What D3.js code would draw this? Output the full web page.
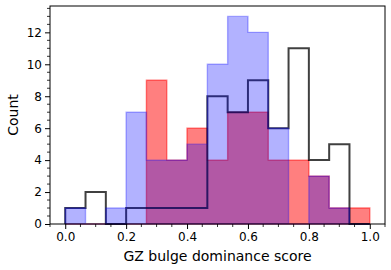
<!DOCTYPE html>
<html>
<head>
<meta charset="utf-8">
<script src="https://cdn.jsdelivr.net/npm/d3@7"></script>
<style>
  body { margin: 0; background: #fff; }
  text { font-family: "DejaVu Sans", sans-serif; fill: #000; }
</style>
</head>
<body>
<div class="chart"></div>
<script>
// histogram counts, 15 equal bins between 0 and 1
var binRange = [0, 1];
var redCounts   = [0, 0, 0, 0, 9, 4, 6, 4, 7, 7, 4, 4, 3, 1, 1];
var blueCounts  = [1, 0, 1, 7, 4, 4, 5, 10, 13, 12, 6, 0, 3, 1, 0];
var blackCounts = [1, 2, 0, 1, 1, 1, 1, 8, 7, 9, 6, 11, 4, 5, 0];
var xTicks = [0, 0.2, 0.4, 0.6, 0.8, 1.0];
var yTicks = [0, 2, 4, 6, 8, 10, 12];

var margin = {top: 6, right: 6, bottom: 46, left: 50};
var width = 391 - margin.left - margin.right;
var height = 270 - margin.top - margin.bottom;

var svg = d3.select('div.chart').append('svg')
    .attr('width', 391)
    .attr('height', 270);
var g = svg.append('g')
    .attr('transform', 'translate(' + margin.left + ',' + margin.top + ')');

var nBins = redCounts.length;
var edges = d3.range(nBins + 1).map(function (i) {
  return binRange[0] + (binRange[1] - binRange[0]) * i / nBins;
});

var xScale = d3.scaleLinear().domain([-0.05, 1.05]).range([0, width]);
var yMax = d3.max(redCounts.concat(blueCounts, blackCounts)) * 1.05;
var yScale = d3.scaleLinear().domain([0, yMax]).range([height, 0]);

function outline(counts) {
  var pts = [[edges[0], 0]];
  counts.forEach(function (v, i) {
    pts.push([edges[i], v]);
    pts.push([edges[i + 1], v]);
  });
  pts.push([edges[nBins], 0]);
  return pts;
}

var line = d3.line()
    .x(function (d) { return xScale(d[0]); })
    .y(function (d) { return yScale(d[1]); });

// red (stepfilled, alpha .5)
g.append('path')
  .attr('d', line(outline(redCounts)) + 'Z')
  .attr('fill', 'red').attr('fill-opacity', 0.5)
  .attr('stroke', 'red').attr('stroke-opacity', 0.5)
  .attr('stroke-width', 1.4);

// black step outline
g.append('path')
  .attr('d', line(outline(blackCounts)))
  .attr('fill', 'none')
  .attr('stroke', 'black').attr('stroke-opacity', 0.75)
  .attr('stroke-width', 2);

// blue (stepfilled, alpha .3)
g.append('path')
  .attr('d', line(outline(blueCounts)) + 'Z')
  .attr('fill', 'blue').attr('fill-opacity', 0.3)
  .attr('stroke', 'blue').attr('stroke-opacity', 0.3)
  .attr('stroke-width', 1.4);

// axes
var xAxis = d3.axisBottom(xScale).tickValues(xTicks).tickSize(5).tickPadding(3)
    .tickFormat(d3.format('.1f'));
var yAxis = d3.axisLeft(yScale).tickValues(yTicks).tickSize(5).tickPadding(3);

var xg = g.append('g').attr('transform', 'translate(0,' + height + ')').call(xAxis);
var yg = g.append('g').call(yAxis);

// minor ticks
var xMinor = d3.range(-0.05, 1.051, 0.05).filter(function (v) {
  return Math.abs(Math.round(v * 5) - v * 5) > 1e-6;
});
var yMinor = d3.range(0, yMax, 0.5).filter(function (v) { return v % 2 !== 0; });
xg.selectAll('line.minor').data(xMinor).enter().append('line')
  .attr('class', 'minor')
  .attr('x1', function (d) { return xScale(d); }).attr('x2', function (d) { return xScale(d); })
  .attr('y1', 0).attr('y2', 3).attr('stroke', '#000').attr('stroke-width', 0.8);
yg.selectAll('line.minor').data(yMinor).enter().append('line')
  .attr('class', 'minor')
  .attr('y1', function (d) { return yScale(d); }).attr('y2', function (d) { return yScale(d); })
  .attr('x1', 0).attr('x2', -3).attr('stroke', '#000').attr('stroke-width', 0.8);

svg.selectAll('.domain').remove();
svg.selectAll('.tick line').attr('stroke', '#000').attr('stroke-width', 1);
svg.selectAll('.tick text').style('font-size', '12px');

// frame
g.append('rect')
  .attr('width', width).attr('height', height)
  .attr('fill', 'none').attr('stroke', '#000').attr('stroke-width', 1);

svg.append('text')
  .attr('x', margin.left + width / 2).attr('y', 261)
  .attr('text-anchor', 'middle')
  .style('font-size', '14px')
  .text('GZ bulge dominance score');

svg.append('text')
  .attr('transform', 'translate(18,' + (margin.top + height / 2) + ') rotate(-90)')
  .attr('text-anchor', 'middle')
  .style('font-size', '14px')
  .text('Count');
</script>
</body>
</html>
